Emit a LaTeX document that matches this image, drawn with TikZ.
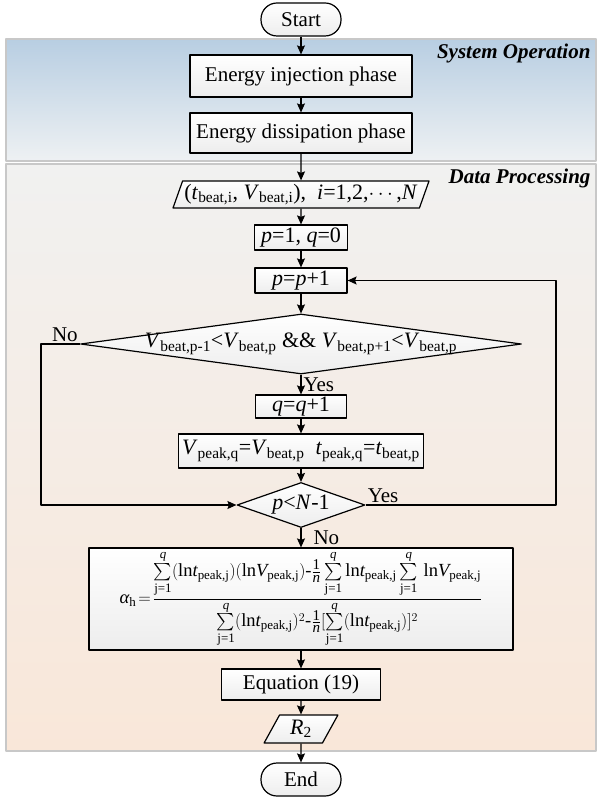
\documentclass[tikz,border=0pt]{standalone}
\usepackage{amsmath}
\usepackage{fontspec}
\setmainfont{Liberation Serif}
\usetikzlibrary{arrows.meta,shapes.geometric}
\definecolor{opTop}{RGB}{184,206,226}
\definecolor{opBot}{RGB}{238,241,243}
\definecolor{dpTop}{RGB}{241,241,240}
\definecolor{dpBot}{RGB}{249,231,217}
\definecolor{bandLine}{RGB}{200,200,200}
\newcommand{\vsub}[2]{\textit{#1}\textsubscript{#2}}
\newcommand{\lnT}{\text{ln}\textit{t}_{\text{peak,j}}}
\newcommand{\lnV}{\text{ln}\textit{V}_{\text{peak,j}}}
\newcommand{\sumJ}{\sum\limits_{\text{j=1}}^{\textit{q}}}
\newcommand{\oneN}{\frac{\text{\fontsize{15}{15}\selectfont 1}}{\text{\fontsize{15}{15}\selectfont\itshape n}}}
\begin{document}
\begin{tikzpicture}[x=1pt,y=-1pt,>={Stealth[length=9pt,width=8pt,inset=1.5pt]}, font=\fontsize{21}{25}\selectfont, line join=round]
	\tikzset{band/.style={draw=bandLine, line width=1.5pt},
		box/.style={draw, line width=1.2pt, top color=white, bottom color=gray!14, inner sep=0pt},
		proc/.style={box, rectangle},
		term/.style={box, rectangle, rounded corners=16pt, minimum width=80, minimum height=33},
		io/.style={box, trapezium, trapezium left angle=66, trapezium right angle=114, trapezium stretches=true},
		decision/.style={box, diamond},
		mathtxt/.style={font=\fontsize{22}{26}\selectfont},
		lbl/.style={inner sep=2pt},
		title/.style={font=\fontsize{21}{25}\selectfont\bfseries\itshape, anchor=east},
		flow/.style={->, line width=1.1pt}}
	\def \cx{301}
	\useasboundingbox (0,0) rectangle (597,799);
	\draw[band, top color=opTop, bottom color=opBot] (6,39) rectangle (596,161);
	\draw[band, top color=dpTop, bottom color=dpBot] (6,164) rectangle (596,751);
	\node[title] (opTitle) at (594,53) {System Operation};
	\node[title] (dpTitle) at (594,178) {Data Processing};
	\node[term] (start) at (\cx,19.5) {Start};
	\node[proc, minimum width=222, minimum height=42] (inj) at (\cx,76) {Energy injection phase};
	\node[proc, minimum width=222, minimum height=40] (dis) at (\cx,133) {Energy dissipation phase};
	\node[io, mathtxt, minimum width=257, minimum height=27] (input) at (\cx,194.5) {(\vsub{t}{beat,i}, \vsub{V}{beat,i}),\ \ \textit{i}=1,2,$\cdots$,\textit{N}};
	\node[proc, mathtxt, minimum width=93, minimum height=25] (init) at (\cx,237.5) {\textit{p}=1, \textit{q}=0};
	\node[proc, mathtxt, minimum width=92, minimum height=25] (incp) at (\cx,280.5) {\textit{p}=\textit{p}+1};
	\node[decision, minimum width=441, minimum height=60] (peak) at (\cx,344) {};
	\node[mathtxt] (peakTxt) at (peak) {\vsub{V}{beat,p-1}<\vsub{V}{beat,p} \&\& \vsub{V}{beat,p+1}<\vsub{V}{beat,p}};
	\node[proc, mathtxt, minimum width=91, minimum height=23] (incq) at (\cx,406.5) {\textit{q}=\textit{q}+1};
	\node[proc, mathtxt, minimum width=245, minimum height=34] (store) at (\cx,451) {\vsub{V}{peak,q}=\vsub{V}{beat,p}\ \ \vsub{t}{peak,q}=\vsub{t}{beat,p}};
	\node[decision, minimum width=128, minimum height=45] (last) at (\cx,505) {};
	\node[mathtxt] (lastTxt) at (last) {\textit{p}<\textit{N}-1};
	\node[proc, minimum width=424, minimum height=102, font=\fontsize{18.5}{22}\selectfont] (slope) at (\cx,599) {$\textit{α}_{\text{h}}\!=\!\dfrac{\sumJ(\lnT)(\lnV)\text{-}\oneN\sumJ\lnT\sumJ\,\lnV}{\sumJ(\lnT)^2\text{-}\oneN[\sumJ(\lnT)]^2}$};
	\node[proc, minimum width=159, minimum height=31] (eq) at (\cx,684.5) {Equation (19)};
	\node[io, mathtxt, minimum width=74, minimum height=28] (res) at (\cx,729) {\vsub{R}{2}};
	\node[term] (end) at (\cx,779.5) {End};
	\foreach \a/\b in {start/inj, inj/dis, dis/input, input/init, init/incp, incp/peak, incq/store, store/last, slope/eq, eq/res, res/end}
		\draw[flow] (\a) -- (\b);
	\draw[flow] (peak) -- node[lbl, right] (yes1) {Yes} (incq);
	\draw[flow] (last) -- node[lbl, right, xshift=10pt] (no2) {No} (slope);
	\coordinate (loopX) at (556,0);
	\coordinate (noX) at (41,0);
	\draw[flow] (last.east) -- (last.east -| loopX) |- (incp.east);
	\draw[flow] (peak.west) -- (peak.west -| noX) |- (last.west);
	\node[lbl, anchor=south west] (yes2) at (last.east) {Yes};
	\node[lbl, anchor=south east] (no1) at (peak.west) {No};
\end{tikzpicture}
\end{document}
